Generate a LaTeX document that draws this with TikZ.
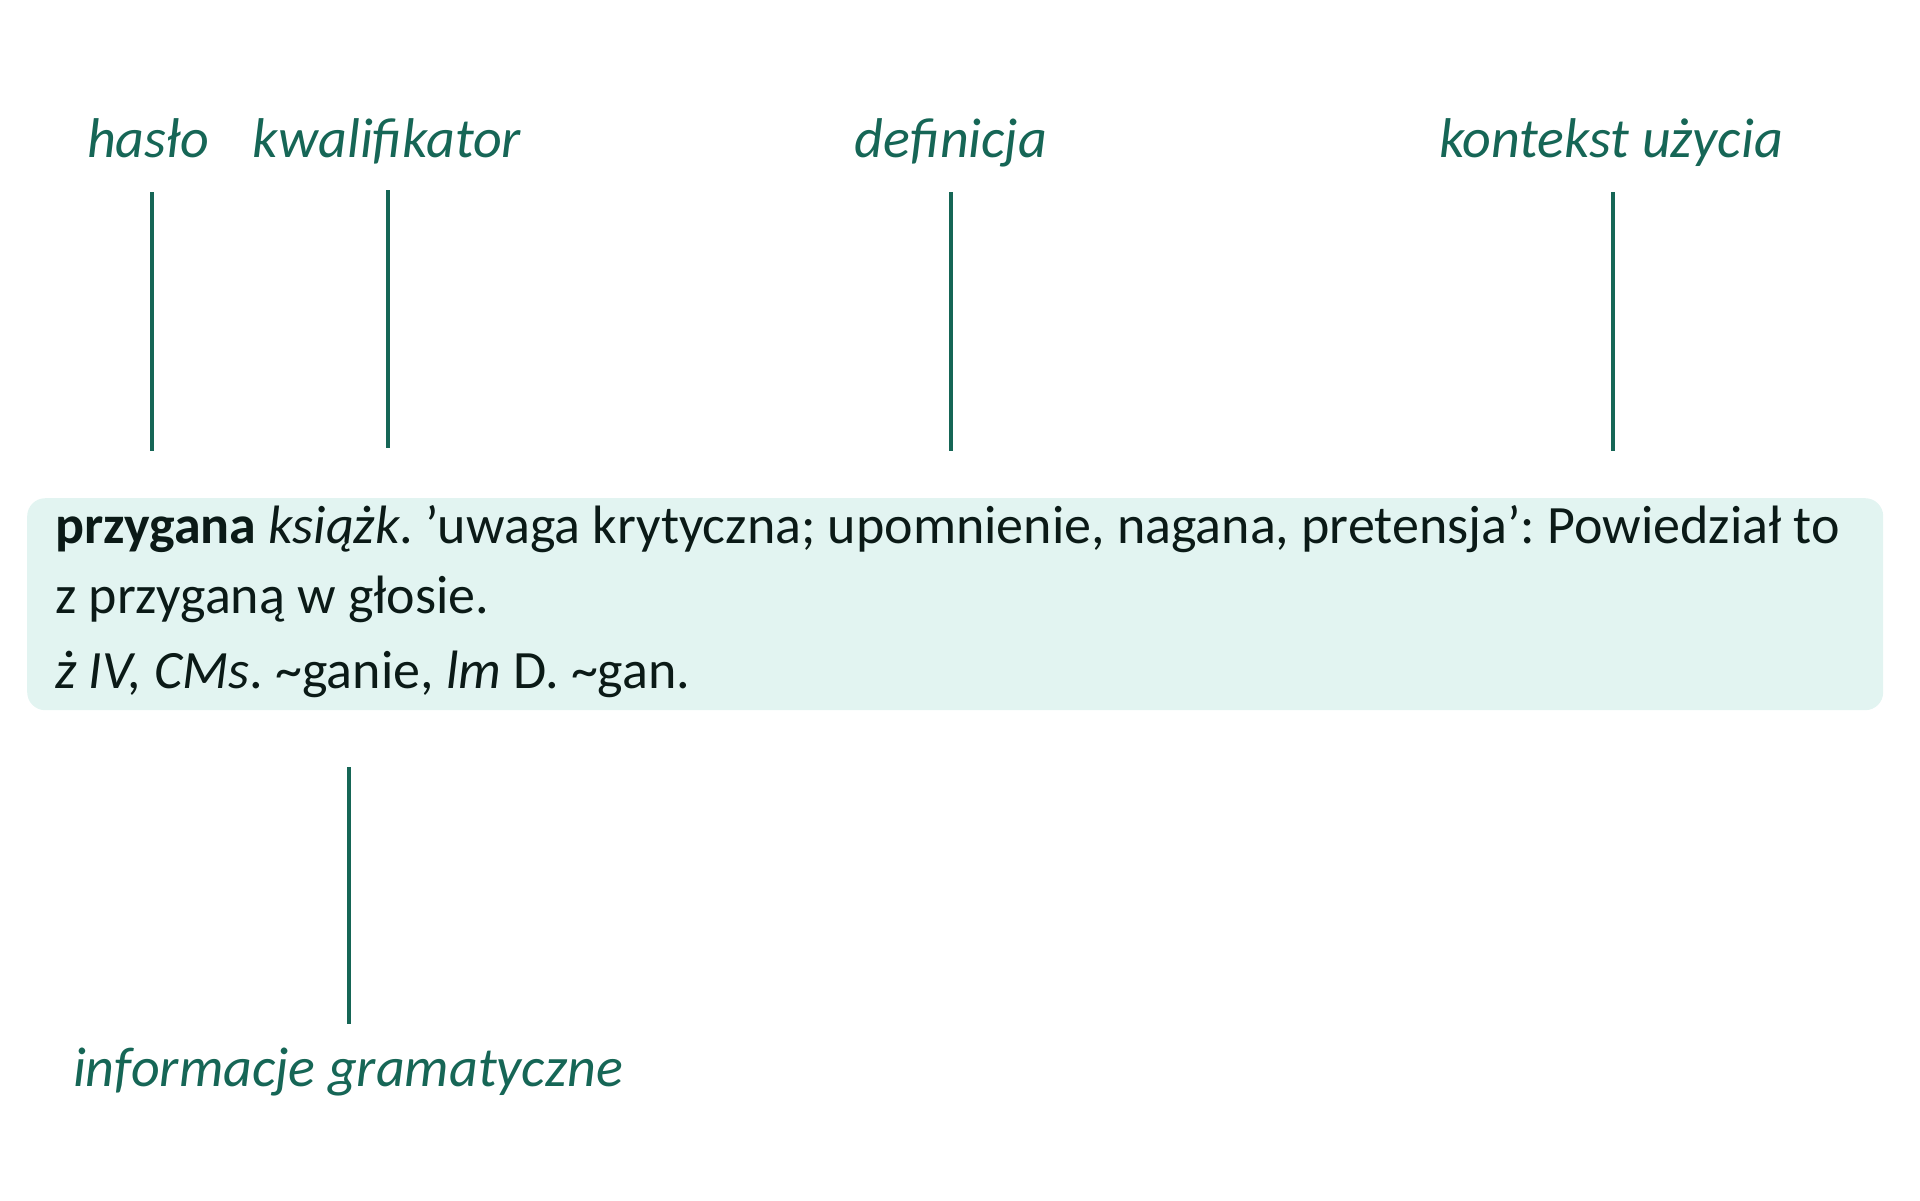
\documentclass[tikz,border=0pt]{standalone}
\usepackage{fontspec}
\setmainfont{Carlito}
\frenchspacing
\definecolor{lblgreen}{HTML}{166656}
\definecolor{boxfill}{HTML}{E2F4F1}
\definecolor{bodytext}{HTML}{0B1A17}
\tikzset{
  lbl/.style={anchor=base, inner sep=0pt, text=lblgreen, font=\fontsize{56}{64}\selectfont\itshape},
  bodyline/.style={anchor=base west, inner sep=0pt, text=bodytext, font=\fontsize{54}{62}\selectfont},
  entrybox/.style={anchor=north west, inner sep=0pt, fill=boxfill, draw=none, rounded corners=18pt, minimum width=1856pt, minimum height=212pt},
  pointer/.style={draw=lblgreen, line width=3.3pt}
}
\begin{document}
\begin{tikzpicture}[x=1pt,y=-1pt]
\useasboundingbox (0,0) rectangle (1920,1200);
\node[entrybox] (entry) at (27,498) {};
\node[bodyline] (l1) at (55,543) {\textbf{przygana} \textit{książk}. ’uwaga krytyczna; upomnienie, nagana, pretensja’: Powiedział to};
\node[bodyline] (l2) at (55,613) {z przyganą w głosie.};
\node[bodyline] (l3) at (55,688) {\textit{ż IV, CMs}. \textasciitilde ganie, \textit{lm} D. \textasciitilde gan.};

\node[lbl] (haslo) at (148,157) {hasło};
\node[lbl] (kwal) at (387,157) {kwalifikator};
\node[lbl] (defin) at (951,157) {definicja};
\node[lbl] (kont) at (1611,157) {kontekst użycia};
\node[lbl] (gram) at (348,1086) {informacje gramatyczne};

\coordinate (h1) at (152,192); \coordinate (h2) at (152,451);
\coordinate (k1) at (388,190); \coordinate (k2) at (388,448);
\coordinate (d1) at (951,192); \coordinate (d2) at (951,451);
\coordinate (c1) at (1613,192); \coordinate (c2) at (1613,451);
\coordinate (g1) at (349,767); \coordinate (g2) at (349,1024);

\draw[pointer] (h1) -- (h2);
\draw[pointer] (k1) -- (k2);
\draw[pointer] (d1) -- (d2);
\draw[pointer] (c1) -- (c2);
\draw[pointer] (g1) -- (g2);
\end{tikzpicture}
\end{document}
